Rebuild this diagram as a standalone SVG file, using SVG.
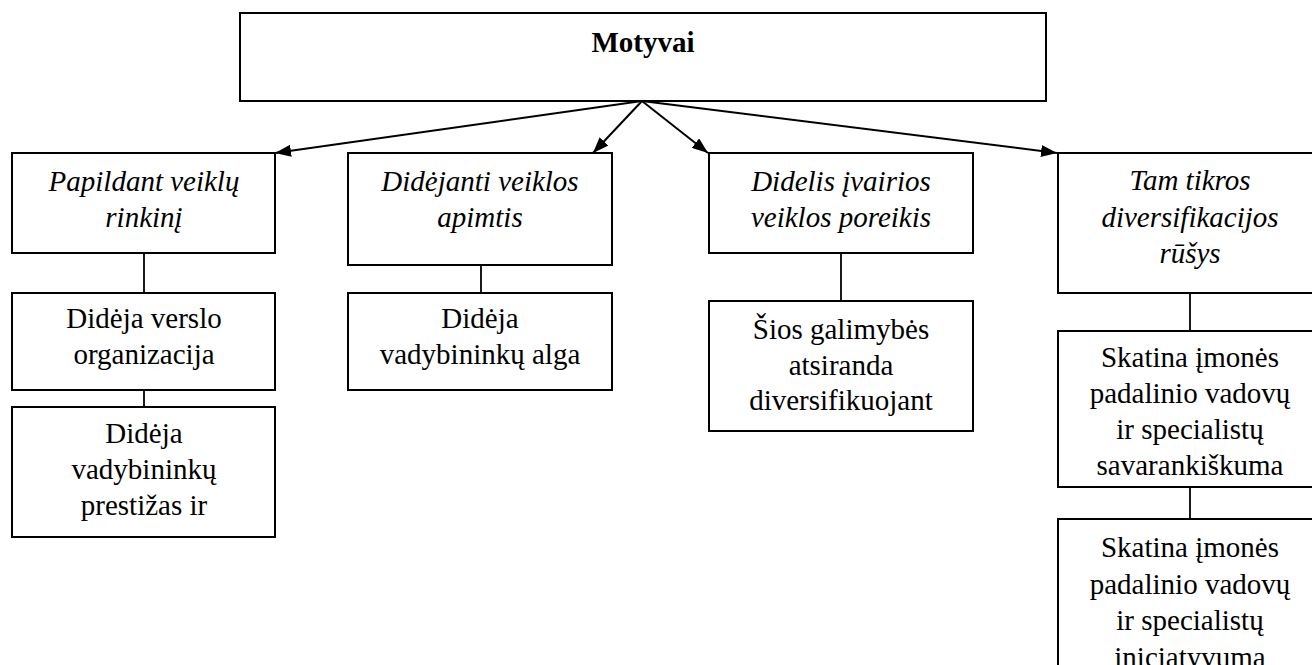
<svg xmlns="http://www.w3.org/2000/svg" width="1312" height="665" viewBox="0 0 1312 665">
  <style>
    .box { fill: #ffffff; stroke: #000000; stroke-width: 2; }
    text { font-family: 'Liberation Serif', Tinos, 'Times New Roman', Times, 'DejaVu Serif', serif; font-size: 29px; fill: #000000; text-anchor: middle; }
    .it { font-style: italic; }
    .b { font-weight: bold; }
    .link { stroke: #000000; stroke-width: 1.8; fill: none; }
    .arrow { stroke: #000000; stroke-width: 2; fill: none; marker-end: url(#head); }
  </style>
  <defs>
    <marker id="head" markerUnits="userSpaceOnUse" markerWidth="16" markerHeight="12" viewBox="0 0 16 12" refX="16" refY="6" orient="auto">
      <path d="M0,0 L16,6 L0,12 z" fill="#000000"/>
    </marker>
  </defs>

  <rect width="1312" height="665" fill="#ffffff"/>

  <!-- connectors -->
  <g id="connectors">
    <line class="arrow" x1="642" y1="101" x2="275" y2="153"/>
    <line class="arrow" x1="642" y1="101" x2="593" y2="153"/>
    <line class="arrow" x1="642" y1="101" x2="708" y2="153"/>
    <line class="arrow" x1="642" y1="101" x2="1057" y2="153"/>
    <line class="link" x1="144" y1="253" x2="144" y2="293"/>
    <line class="link" x1="144" y1="390" x2="144" y2="407"/>
    <line class="link" x1="481" y1="265" x2="481" y2="293"/>
    <line class="link" x1="841" y1="253" x2="841" y2="301"/>
    <line class="link" x1="1190" y1="293" x2="1190" y2="331"/>
    <line class="link" x1="1190" y1="487" x2="1190" y2="519"/>
  </g>

  <!-- root -->
  <g id="motyvai">
    <rect class="box" x="240" y="13" width="806" height="88"/>
    <text class="b" x="643" y="52" font-family="Liberation Serif, serif">Motyvai</text>
  </g>

  <!-- column 1 -->
  <g id="papildant">
    <rect class="box" x="12" y="153" width="263" height="100"/>
    <text class="it" x="144" y="191">Papildant veiklų</text>
    <text class="it" x="144" y="227">rinkinį</text>
  </g>
  <g id="verslo-organizacija">
    <rect class="box" x="12" y="293" width="263" height="97"/>
    <text x="144" y="328">Didėja verslo</text>
    <text x="144" y="364">organizacija</text>
  </g>
  <g id="prestizas">
    <rect class="box" x="12" y="407" width="263" height="130"/>
    <text x="144" y="443">Didėja</text>
    <text x="144" y="479">vadybininkų</text>
    <text x="144" y="515">prestižas ir</text>
  </g>

  <!-- column 2 -->
  <g id="apimtis">
    <rect class="box" x="348" y="153" width="264" height="112"/>
    <text class="it" x="480" y="191">Didėjanti veiklos</text>
    <text class="it" x="480" y="227">apimtis</text>
  </g>
  <g id="alga">
    <rect class="box" x="348" y="293" width="264" height="97"/>
    <text x="480" y="328">Didėja</text>
    <text x="480" y="364">vadybininkų alga</text>
  </g>

  <!-- column 3 -->
  <g id="poreikis">
    <rect class="box" x="709" y="153" width="264" height="100"/>
    <text class="it" x="841" y="191">Didelis įvairios</text>
    <text class="it" x="841" y="227">veiklos poreikis</text>
  </g>
  <g id="galimybes">
    <rect class="box" x="709" y="301" width="264" height="130"/>
    <text x="841" y="339">Šios galimybės</text>
    <text x="841" y="375">atsiranda</text>
    <text x="841" y="410">diversifikuojant</text>
  </g>

  <!-- column 4 -->
  <g id="rusys">
    <rect class="box" x="1058" y="153" width="264" height="140"/>
    <text class="it" x="1190" y="190">Tam tikros</text>
    <text class="it" x="1190" y="227">diversifikacijos</text>
    <text class="it" x="1190" y="263">rūšys</text>
  </g>
  <g id="savarankiskumas">
    <rect class="box" x="1058" y="331" width="264" height="156"/>
    <text x="1190" y="367">Skatina įmonės</text>
    <text x="1190" y="403">padalinio vadovų</text>
    <text x="1190" y="439">ir specialistų</text>
    <text x="1190" y="475">savarankiškuma</text>
  </g>
  <g id="iniciatyvumas">
    <rect class="box" x="1058" y="519" width="264" height="170"/>
    <text x="1190" y="557">Skatina įmonės</text>
    <text x="1190" y="594">padalinio vadovų</text>
    <text x="1190" y="630">ir specialistų</text>
    <text x="1190" y="667">iniciatyvuma</text>
  </g>
</svg>
